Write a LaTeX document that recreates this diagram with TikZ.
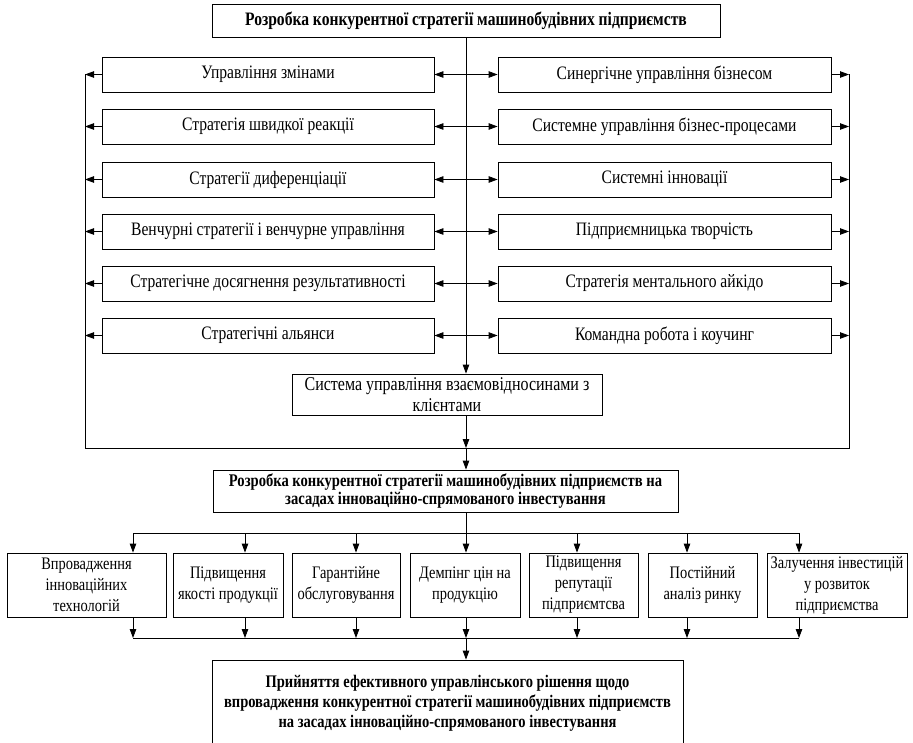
\documentclass[tikz,border=0pt]{standalone}
\usepackage{fontspec}
\setmainfont{Liberation Serif}[FakeStretch=0.82]
\usetikzlibrary{arrows.meta}
\begin{document}
\begin{tikzpicture}[x=1pt,y=-1pt,
  box/.style={draw, line width=0.8pt, inner sep=0pt, align=center, font=\fontsize{19}{21}\selectfont},
  bbox/.style={box, font=\fontsize{19}{19}\selectfont\bfseries},
  lbox/.style={box, minimum width=332pt, minimum height=35pt},
  rbox/.style={box, minimum width=333pt, minimum height=35pt},
  sbox/.style={box, minimum height=64pt, font=\fontsize{17.6}{21}\selectfont},
  ln/.style={line width=0.8pt},
  arr/.style={ln, -{Triangle[length=9pt,width=6.5pt]}},
  darr/.style={ln, {Triangle[length=9pt,width=6.5pt]}-{Triangle[length=9pt,width=6.5pt]}}
]
\useasboundingbox (0,0) rectangle (913,743);

\node[bbox, minimum width=508pt, minimum height=33pt] (top) at (466,20.5) {Розробка конкурентної стратегії машинобудівних підприємств};

\node[lbox] (l1) at (268,74.5) {Управління змінами};
\node[lbox] (l2) at (268,126.5) {Стратегія швидкої реакції};
\node[lbox] (l3) at (268,179.5) {Стратегії диференціації};
\node[lbox] (l4) at (268,231.5) {Венчурні стратегії і венчурне управління};
\node[lbox] (l5) at (268,283.5) {Стратегічне досягнення результативності};
\node[lbox] (l6) at (268,335.5) {Стратегічні альянси};

\node[rbox] (r1) at (664.5,74.5) {Синергічне управління бізнесом};
\node[rbox] (r2) at (664.5,126.5) {Системне управління бізнес-процесами};
\node[rbox] (r3) at (664.5,179.5) {Системні інновації};
\node[rbox] (r4) at (664.5,231.5) {Підприємницька творчість};
\node[rbox] (r5) at (664.5,283.5) {Стратегія ментального айкідо};
\node[rbox] (r6) at (664.5,335.5) {Командна робота і коучинг};

\node[box, font=\fontsize{19.5}{21}\selectfont, minimum width=310pt, minimum height=41pt] (crm) at (447,394.5) {Система управління взаємовідносинами з\\клієнтами};

\node[bbox, font=\fontsize{17.8}{18.5}\selectfont\bfseries, minimum width=465pt, minimum height=42pt] (dev) at (445.5,491) {Розробка конкурентної стратегії машинобудівних підприємств на\\засадах інноваційно-спрямованого інвестування};

\node[sbox, minimum width=159pt] (b1) at (86.5,585) {Впровадження\\інноваційних\\технологій};
\node[sbox, minimum width=110pt] (b2) at (228,585) {Підвищення\\якості продукції};
\node[sbox, minimum width=108pt] (b3) at (346,585) {Гарантійне\\обслуговування};
\node[sbox, minimum width=110pt] (b4) at (465,585) {Демпінг цін на\\продукцію};
\node[sbox, minimum width=109pt] (b5) at (583.5,585) {Підвищення\\репутації\\підприємтсва};
\node[sbox, minimum width=109pt] (b6) at (702.5,585) {Постійний\\аналіз ринку};
\node[sbox, minimum width=140pt] (b7) at (837,585) {Залучення інвестицій\\у розвиток\\підприємства};

\node[bbox, font=\fontsize{17.7}{20}\selectfont\bfseries, minimum width=471pt, minimum height=86pt] (fin) at (447.5,703) {Прийняття ефективного управлінського рішення щодо\\впровадження конкурентної стратегії машинобудівних підприємств\\на засадах інноваційно-спрямованого інвестування};

% central spine
\draw[arr] (top.south) -- (crm.north -| top.south);

% double arrows between columns
\foreach \i in {1,...,6} {
  \draw[darr] (l\i.east) -- (r\i.west);
}

% outer collectors
\coordinate (hl) at (85,448);
\coordinate (hr) at (849,448);
\coordinate (hm) at (466,448);
\foreach \i in {1,...,6} {
  \draw[arr] (l\i.west) -- (l\i.west -| hl);
  \draw[arr] (r\i.east) -- (r\i.east -| hr);
}
\draw[ln] (l1.west -| hl) -- (hl) -- (hr) -- (r1.east -| hr);

\draw[arr] (crm.south -| hm) -- (hm);
\draw[arr] (hm) -- (dev.north -| hm);

% distribution
\coordinate (t1) at (133,533);
\coordinate (t2) at (245,533);
\coordinate (t3) at (356,533);
\coordinate (t4) at (466,533);
\coordinate (t5) at (577,533);
\coordinate (t6) at (687,533);
\coordinate (t7) at (799,533);
\coordinate (m1) at (133,638);
\coordinate (m2) at (245,638);
\coordinate (m3) at (356,638);
\coordinate (m4) at (466,638);
\coordinate (m5) at (577,638);
\coordinate (m6) at (687,638);
\coordinate (m7) at (799,638);

\draw[ln] (dev.south -| t4) -- (t4);
\draw[ln] (t1) -- (t7);
\draw[ln] (m1) -- (m7);
\foreach \i in {1,...,7} {
  \draw[arr] (t\i) -- (t\i |- b\i.north);
  \draw[arr] (m\i |- b\i.south) -- (m\i);
}
\draw[arr] (m4) -- (fin.north -| m4);
\end{tikzpicture}
\end{document}
